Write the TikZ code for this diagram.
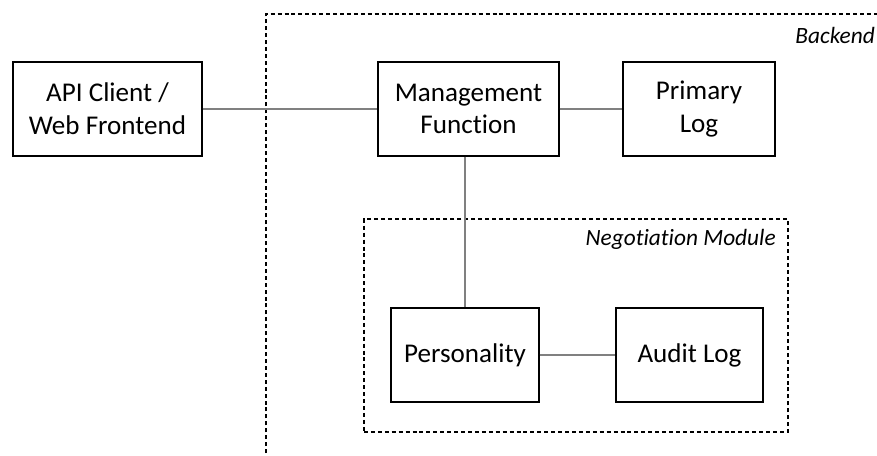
\documentclass[tikz,border=0pt]{standalone}
\usepackage{fontspec}
\setmainfont{Carlito}[Ligatures=CommonOff]
\begin{document}
\begin{tikzpicture}[x=0.75pt,y=-0.75pt,
  box/.style={draw=black, line width=1.1pt, fill=white, align=center, inner sep=0pt,
    minimum height=70.5pt, font=\fontsize{20.3}{24.6}\selectfont},
  conn/.style={draw=black!50, line width=0.8pt},
  group/.style={draw=black, line width=0.9pt, dash pattern=on 3pt off 2.2pt},
  grouplabel/.style={font=\fontsize{17.5}{20}\selectfont\itshape, anchor=east, inner sep=0pt}]
\useasboundingbox (0,0) rectangle (877,455);
% Backend group (extends past the picture)
\draw[group] (266,460) -- (266,14) -- (885,14);
\node[grouplabel] (backendlbl) at (875,35) {Backend};
% Negotiation module group
\node[group, inner sep=0pt, minimum width=318pt, minimum height=159.75pt] (neg) at (576,325.5) {};
\node[grouplabel] (neglbl) at (776,239) {Negotiation Module};
% Boxes
\node[box, minimum width=141.75pt] (api) at (107.5,109) {API Client /\\Web Frontend};
\node[box, minimum width=135.75pt] (mgmt) at (468.5,109) {Management\\Function};
\node[box, minimum width=114pt] (plog) at (699,109) {Primary\\Log};
\node[box, minimum width=111pt] (pers) at (465,355) {Personality};
\node[box, minimum width=110.25pt] (alog) at (689.5,355) {Audit Log};
% Connectors
\draw[conn] (api.east) -- (mgmt.west);
\draw[conn] (mgmt.east) -- (plog.west);
\draw[conn] (pers.north |- mgmt.south) -- (pers.north);
\draw[conn] (pers.east) -- (alog.west);
\end{tikzpicture}
\end{document}
